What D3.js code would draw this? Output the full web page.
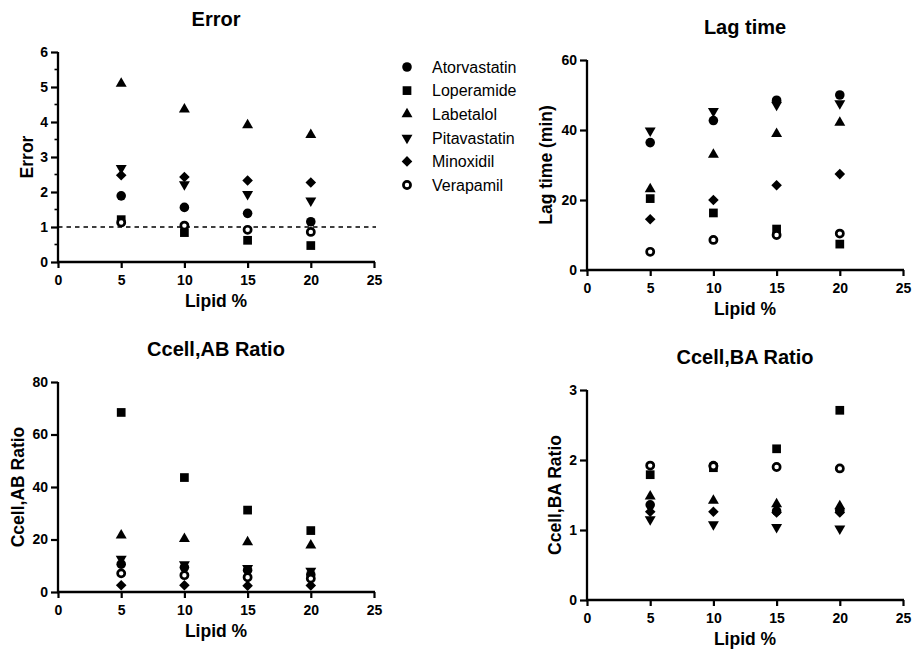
<!DOCTYPE html>
<html>
<head>
<meta charset="utf-8">
<script src="https://cdn.jsdelivr.net/npm/d3@7"></script>
<style>
  html, body { margin: 0; padding: 0; background: #fff; }
  svg { display: block; }
  svg text { font-family: Arial, "Liberation Sans", sans-serif; }
</style>
</head>
<body>
<svg id="chart" width="915" height="654"></svg>
<script>
// Shared x values and drug names
const lipid = [5, 10, 15, 20];
const xTicks = [0, 5, 10, 15, 20, 25];
const drugs = ["Atorvastatin", "Loperamide", "Labetalol", "Pitavastatin", "Minoxidil", "Verapamil"];

// One row per drug (same order as `drugs`), one value per lipid %
const errorValues = [
  [1.89, 1.56, 1.39, 1.15],
  [1.21, 0.84, 0.62, 0.47],
  [5.10, 4.36, 3.91, 3.63],
  [2.68, 2.22, 1.94, 1.75],
  [2.48, 2.43, 2.33, 2.27],
  [1.13, 1.04, 0.92, 0.86]
];
const lagValues = [
  [36.4, 42.7, 48.5, 50.0],
  [20.4, 16.3, 11.7, 7.4],
  [23.1, 33.0, 38.9, 42.1],
  [39.8, 45.4, 47.2, 47.6],
  [14.5, 20.0, 24.2, 27.4],
  [5.2, 8.6, 10.0, 10.4]
];
const abValues = [
  [10.6, 9.4, 8.3, 6.6],
  [68.4, 43.6, 31.2, 23.4],
  [21.6, 20.3, 19.0, 17.8],
  [12.6, 10.5, 9.1, 8.0],
  [2.6, 2.6, 2.4, 2.5],
  [7.1, 6.4, 5.6, 5.1]
];
const baValues = [
  [1.36, 1.92, 1.27, 1.28],
  [1.79, 1.89, 2.16, 2.71],
  [1.48, 1.42, 1.37, 1.34],
  [1.15, 1.08, 1.04, 1.02],
  [1.26, 1.26, 1.25, 1.25],
  [1.92, 1.91, 1.90, 1.88]
];

const errorTicks = [0, 1, 2, 3, 4, 5, 6];
const errorMinor = [0.5, 1.5, 2.5, 3.5, 4.5, 5.5];
const lagTicks = [0, 20, 40, 60];
const abTicks = [0, 20, 40, 60, 80];
const baTicks = [0, 1, 2, 3];

// Panel layout
const panels = [
  { title: "Error", ylabel: "Error", values: errorValues, yDomain: [0, 6], yTicks: errorTicks, yMinor: errorMinor,
    refLine: 1, left: 58, right: 374, bottom: 262, top: 52, ylabelOff: 25 },
  { title: "Lag time", ylabel: "Lag time (min)", values: lagValues, yDomain: [0, 60], yTicks: lagTicks, yMinor: [],
    refLine: null, left: 587, right: 903, bottom: 270, top: 60, ylabelOff: 35 },
  { title: "Ccell,AB Ratio", ylabel: "Ccell,AB Ratio", values: abValues, yDomain: [0, 80], yTicks: abTicks, yMinor: [],
    refLine: null, left: 58, right: 374, bottom: 592, top: 382, ylabelOff: 34 },
  { title: "Ccell,BA Ratio", ylabel: "Ccell,BA Ratio", values: baValues, yDomain: [0, 3], yTicks: baTicks, yMinor: [],
    refLine: null, left: 587, right: 903, bottom: 600, top: 390, ylabelOff: 26 }
];

// Marker shapes per drug
const markers = [
  { type: d3.symbolCircle, size: 72, rotate: 0, open: false },
  { type: d3.symbolSquare, size: 76, rotate: 0, open: false },
  { type: d3.symbolTriangle, size: 52, rotate: 0, open: false },
  { type: d3.symbolTriangle, size: 52, rotate: 180, open: false },
  { type: d3.symbolSquare, size: 56, rotate: 45, open: false },
  { type: d3.symbolCircle, size: 40, rotate: 0, open: true }
];

const FONT = 'Arial, "Liberation Sans", sans-serif';
const svg = d3.select("#chart");

function drawMarker(g, m, x, y) {
  g.append("path")
    .attr("d", d3.symbol().type(m.type).size(m.size)())
    .attr("transform", `translate(${x},${y}) rotate(${m.rotate})`)
    .attr("fill", m.open ? "#fff" : "#000")
    .attr("stroke", m.open ? "#000" : "none")
    .attr("stroke-width", m.open ? 2.7 : 0);
}

panels.forEach(p => {
  const g = svg.append("g");
  const x = d3.scaleLinear().domain([0, 25]).range([p.left, p.right]);
  const y = d3.scaleLinear().domain(p.yDomain).range([p.bottom, p.top]);

  // x axis
  const xAxis = g.append("g")
    .attr("transform", `translate(0,${p.bottom})`)
    .call(d3.axisBottom(x).tickValues(xTicks).tickFormat(d3.format("d"))
      .tickSize(6).tickPadding(7).tickSizeOuter(0));
  // y axis
  const yAxis = g.append("g")
    .attr("transform", `translate(${p.left},0)`)
    .call(d3.axisLeft(y).tickValues(p.yTicks).tickFormat(d3.format("d"))
      .tickSize(7).tickPadding(3).tickSizeOuter(0));

  [xAxis, yAxis].forEach(a => {
    a.attr("font-family", FONT);
    a.select(".domain").attr("stroke", "#000").attr("stroke-width", 2.3);
    a.selectAll(".tick line").attr("stroke", "#000").attr("stroke-width", 2.2);
    a.selectAll(".tick text")
      .attr("fill", "#000")
      .style("font-family", FONT)
      .style("font-size", "14px")
      .style("font-weight", "bold");
  });
  xAxis.select(".domain").attr("d", `M${p.left - 1},0H${p.right + 1}`);
  yAxis.select(".domain").attr("d", `M0,${p.bottom + 1}V${p.top}`);

  // minor y ticks
  g.append("g").selectAll("line").data(p.yMinor).join("line")
    .attr("x1", p.left - 3.5).attr("x2", p.left)
    .attr("y1", d => y(d)).attr("y2", d => y(d))
    .attr("stroke", "#000").attr("stroke-width", 1.6);

  // reference line
  if (p.refLine !== null) {
    g.append("line")
      .attr("x1", p.left).attr("x2", x(25) + 2)
      .attr("y1", y(p.refLine)).attr("y2", y(p.refLine))
      .attr("stroke", "#000").attr("stroke-width", 1.6)
      .attr("stroke-dasharray", "4.5,4");
  }

  // title
  g.append("text")
    .attr("x", (p.left + p.right) / 2).attr("y", p.top - 26)
    .attr("text-anchor", "middle")
    .style("font-size", "20px").style("font-weight", "bold")
    .text(p.title);

  // x label
  g.append("text")
    .attr("x", (p.left + p.right) / 2).attr("y", p.bottom + 45)
    .attr("text-anchor", "middle")
    .style("font-size", "17.5px").style("font-weight", "bold")
    .text("Lipid %");

  // y label
  g.append("text")
    .attr("transform", `translate(${p.left - p.ylabelOff},${(p.top + p.bottom) / 2}) rotate(-90)`)
    .attr("text-anchor", "middle")
    .style("font-size", "17.5px").style("font-weight", "bold")
    .text(p.ylabel);

  // points
  const pts = g.append("g");
  p.values.forEach((row, i) => {
    row.forEach((v, j) => drawMarker(pts, markers[i], x(lipid[j]), y(v)));
  });
});

// legend
const legend = svg.append("g");
const legendY = d3.scalePoint().domain(drugs).range([67, 185]);
drugs.forEach((name, i) => {
  drawMarker(legend, markers[i], 407, legendY(name));
  legend.append("text")
    .attr("x", 432).attr("y", legendY(name) + 5.8)
    .style("font-size", "16px")
    .text(name);
});
</script>
</body>
</html>
